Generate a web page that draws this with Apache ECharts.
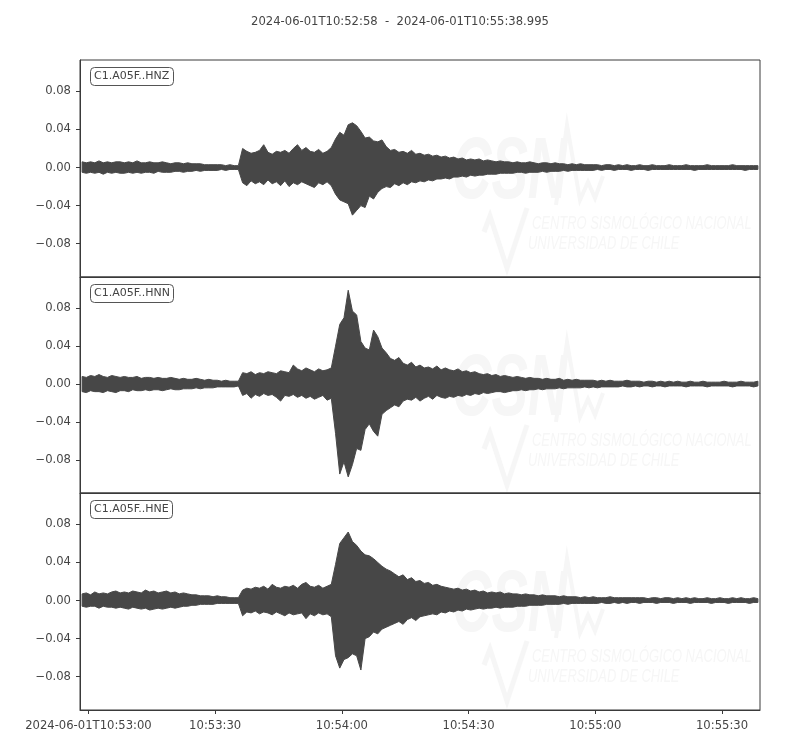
<!DOCTYPE html>
<html>
<head>
<meta charset="utf-8">
<script src="https://cdn.jsdelivr.net/npm/echarts@6/dist/echarts.min.js"></script>
<style>
  html, body { margin: 0; padding: 0; background: #ffffff; }
  #chart { width: 800px; height: 750px; }
</style>
</head>
<body>
<div id="chart"></div>
<script>
// ---------------- data ----------------
const titleText = '2024-06-01T10:52:58  -  2024-06-01T10:55:38.995';
const channels = ['C1.A05F..HNZ', 'C1.A05F..HNN', 'C1.A05F..HNE'];
// seconds after 2024-06-01T10:52:58
const traceDuration = 160.995;
const xTickSeconds = [2, 32, 62, 92, 122, 152];
const xTickLabels = ['2024-06-01T10:53:00', '10:53:30', '10:54:00', '10:54:30', '10:55:00', '10:55:30'];
const yTickValues = [-0.08, -0.04, 0, 0.04, 0.08];
const yTickLabels = ['\u22120.08', '\u22120.04', '0.00', '0.04', '0.08'];
// amplitude envelopes (max / min in each second), units of 0.001
const hnzTop = [
  6,5,6,5,7,5,6,5,6,6, 5,6,5,7,5,5,6,5,5,6, 5,4,5,5,4,5,4,4,4,3, 3,3,3,3,2,3,2,2,
  20,17,15,16,18,24,16,14,17,16, 18,15,20,24,18,21,17,16,19,15,17,21,
  30,37,34,45,47,44,38,31,32,28,27,29,22,
  18,19,16,17,15,18,14,15,13,14,12,13,11,12,10,11,9,10,8,9,8,9,7,8,7,6,7,6,
  6,5,6,5,5,6,5,4,5,5, 4,5,4,4,3,4,3,4,3,3, 3,3,2,3,3,2,3,2,3,2,
  2,3,2,2,3,2,2,2,3,2, 2,2,3,2,2,2,2,3,2,2, 2,2,2,3,2,2,2,2,2,2
];
const hnzBottom = [
  -5,-6,-5,-6,-5,-7,-5,-6,-5,-6, -6,-5,-6,-5,-6,-5,-5,-6,-4,-5, -5,-5,-4,-4,-5,-4,-4,-3,-4,-3, -3,-3,-3,-2,-3,-2,-2,-2,
  -16,-19,-14,-17,-15,-18,-13,-17,-15,-19, -14,-20,-16,-18,-15,-17,-19,-21,-16,-18,-15,-19,
  -28,-34,-36,-38,-50,-45,-40,-42,-30,-33,-26,-22,-20,
  -21,-17,-19,-16,-18,-15,-16,-14,-15,-13,-14,-12,-12,-11,-12,-10,-10,-9,-10,-8,-9,-8,-8,-7,-7,-7,-6,-6,
  -6,-6,-5,-5,-6,-5,-5,-5,-4,-5, -4,-4,-4,-3,-4,-3,-3,-3,-3,-3, -3,-2,-3,-2,-2,-3,-2,-2,-2,-3,
  -2,-2,-2,-3,-2,-2,-2,-2,-2,-2, -2,-2,-2,-2,-3,-2,-2,-2,-2,-2, -2,-2,-2,-2,-2,-2,-3,-2,-2,-2
];
const hnnTop = [
  8,7,9,8,10,8,7,9,8,7, 8,7,7,8,6,7,7,6,7,6, 6,7,6,5,6,5,5,6,5,4, 5,4,4,3,4,3,3,3,
  12,11,13,10,12,11,13,12,11,14, 13,12,20,16,14,17,15,13,16,14, 15,17,
  40,63,70,99,77,73,45,38,36,57,50,38,33,27,25,28,22,20,23,18,20,17,18,16,19,15,
  17,15,14,16,13,14,12,13,11,10,11,9,10,8,9,
  8,7,8,7,6,7,6,6,5,6, 5,5,6,4,5,4,5,4,4,4, 4,3,4,3,4,3,3,3,4,3,
  3,3,2,3,3,2,3,2,3,2, 3,2,2,3,2,2,3,2,2,2, 2,3,2,2,2,3,2,2,2,3
];
const hnnBottom = [
  -8,-9,-7,-8,-8,-9,-7,-8,-9,-7, -7,-8,-6,-7,-7,-6,-7,-6,-6,-7, -6,-5,-6,-6,-5,-5,-5,-4,-5,-4, -4,-4,-3,-3,-3,-3,-3,-2,
  -12,-10,-15,-11,-13,-10,-12,-11,-14,-18, -12,-13,-11,-14,-12,-15,-13,-16,-14,-12, -17,-15,
  -52,-95,-82,-98,-85,-68,-70,-48,-42,-50,-55,-32,-28,-25,-22,-24,-18,-16,-17,-14,-18,-15,-13,-16,-12,-14,
  -15,-13,-14,-12,-13,-11,-12,-10,-11,-9,-10,-9,-8,-8,-9,
  -8,-7,-7,-6,-7,-6,-6,-5,-6,-5, -5,-5,-4,-5,-4,-4,-4,-4,-3,-4, -3,-4,-3,-3,-3,-3,-3,-2,-3,-3,
  -2,-3,-2,-2,-3,-2,-2,-3,-2,-2, -2,-2,-3,-2,-2,-2,-2,-3,-2,-2, -2,-2,-2,-3,-2,-2,-2,-2,-3,-2
];
const hneTop = [
  7,8,6,9,7,8,7,9,10,8, 9,8,10,9,8,11,9,10,8,9, 10,8,9,7,8,7,6,6,5,5, 5,4,5,4,4,3,3,3,
  11,13,12,14,13,15,12,17,14,13, 15,14,16,13,17,19,15,14,16,13, 15,17,
  38,60,66,72,62,58,52,48,47,44,40,36,33,31,28,25,27,22,24,20,21,
  18,19,16,17,15,14,13,12,13,11, 12,10,11,9,10,8,9,8,9,7,
  8,7,7,6,7,6,6,5,6,5, 5,5,4,5,4,4,4,3,4,3, 4,3,3,3,4,3,3,3,3,3,
  3,3,3,2,3,3,2,3,3,2, 3,2,3,2,3,2,2,3,2,2, 3,2,2,3,2,3,2,2,3,2
];
const hneBottom = [
  -6,-7,-6,-6,-8,-6,-7,-7,-8,-7, -8,-9,-7,-8,-9,-8,-10,-9,-8,-9, -8,-7,-8,-7,-6,-6,-5,-5,-4,-4, -4,-4,-3,-3,-3,-3,-3,-3,
  -16,-12,-13,-11,-14,-12,-13,-15,-12,-14, -16,-13,-15,-14,-13,-19,-14,-16,-13,-15, -14,-17,
  -58,-71,-62,-60,-56,-58,-73,-40,-38,-33,-35,-30,-28,-26,-24,-22,-25,-20,-18,-21,-17,
  -16,-15,-14,-15,-12,-13,-11,-12,-10,-11, -9,-10,-9,-8,-9,-8,-8,-7,-8,-7,
  -7,-7,-6,-6,-6,-5,-5,-5,-5,-4, -4,-4,-4,-3,-4,-3,-3,-3,-3,-3, -3,-3,-2,-3,-3,-2,-3,-2,-3,-2,
  -2,-3,-2,-2,-2,-3,-2,-2,-2,-3, -2,-2,-2,-3,-2,-2,-2,-2,-3,-2, -2,-2,-3,-2,-2,-2,-2,-3,-2,-2
];
const envelopes = [[hnzTop, hnzBottom], [hnnTop, hnnBottom], [hneTop, hneBottom]];
const unit = 0.001;

// ---------------- layout ----------------
const textColor = '#444444';
const spineColor = '#3a3a3a';
const traceColor = '#474747';
const panelTops = [60, 277, 493];
const panelHeights = [217, 216, 217];
const yMin = -0.115, yMax = 0.113;
const labelFont = 11.6;

// min/max trace band drawn through the axis scales
function makeRenderer(top, bottom) {
  return function (params, api) {
    const pts = [];
    for (let i = 0; i < top.length; i++) pts.push(api.coord([i + 0.5, top[i] * unit]));
    for (let i = bottom.length - 1; i >= 0; i--) pts.push(api.coord([i + 0.5, bottom[i] * unit]));
    return {
      type: 'polygon',
      shape: { points: pts },
      style: { fill: traceColor, stroke: traceColor, lineWidth: 1 }
    };
  };
}

const grids = [], xAxes = [], yAxes = [], series = [];
const titles = [{
  text: titleText, left: 'center', top: 15, padding: 0,
  textStyle: { fontSize: 11.6, color: textColor, fontWeight: 'normal', fontFamily: 'DejaVu Sans', lineHeight: 14 }
}];
const graphics = [];

for (let p = 0; p < 3; p++) {
  const isBottom = p === 2;
  grids.push({
    left: 80, top: panelTops[p], width: 680, height: panelHeights[p],
    show: true, borderColor: spineColor, borderWidth: 1, backgroundColor: 'transparent', containLabel: false
  });
  xAxes.push({
    type: 'value', gridIndex: p, min: 0, max: traceDuration,
    splitLine: { show: false },
    axisLine: { show: true, onZero: false, lineStyle: { color: spineColor, width: 1 } },
    axisTick: { show: isBottom, length: 4, lineStyle: { color: spineColor }, customValues: xTickSeconds },
    axisLabel: {
      show: isBottom, customValues: xTickSeconds, margin: 10,
      color: textColor, fontSize: labelFont, fontFamily: 'DejaVu Sans',
      formatter: function (v) {
        const k = xTickSeconds.findIndex(s => Math.abs(s - v) < 1e-6);
        return k >= 0 ? xTickLabels[k] : '';
      }
    }
  });
  yAxes.push({
    type: 'value', gridIndex: p, min: yMin, max: yMax,
    splitLine: { show: false },
    axisLine: { show: true, onZero: false, lineStyle: { color: spineColor, width: 1 } },
    axisTick: { show: true, length: 4, lineStyle: { color: spineColor }, customValues: yTickValues },
    axisLabel: {
      customValues: yTickValues, margin: 9,
      color: textColor, fontSize: labelFont, fontFamily: 'DejaVu Sans',
      formatter: function (v) {
        const k = yTickValues.findIndex(s => Math.abs(s - v) < 1e-9);
        return k >= 0 ? yTickLabels[k] : '';
      }
    }
  });
  series.push({
    type: 'custom', xAxisIndex: p, yAxisIndex: p,
    data: [[0, 0]],
    renderItem: makeRenderer(envelopes[p][0], envelopes[p][1]),
    silent: true, clip: true,
    z: 3
  });
  titles.push({
    text: channels[p], left: 90, top: panelTops[p] + 7,
    padding: [3, 4], borderColor: '#555555', borderWidth: 1, borderRadius: 4,
    backgroundColor: '#ffffff',
    textStyle: { fontSize: 11, color: textColor, fontWeight: 'normal', fontFamily: 'DejaVu Sans', lineHeight: 13 }
  });

  // faint watermark logo
  const dy = panelTops[p] - 60;
  const wm = '#f6f6f6';
  graphics.push({
    type: 'text', x: 452, y: 130 + dy, scaleX: 0.62, z: -10, silent: true,
    style: { text: 'CSN', fontFamily: 'Liberation Sans', fontSize: 88, fontStyle: 'italic', fontWeight: 'bold', fill: wm }
  });
  graphics.push({
    type: 'polyline', y: dy, z: -10, silent: true,
    shape: { points: [[556, 205], [567, 125], [580, 200], [588, 182], [595, 198], [603, 176]] },
    style: { stroke: wm, lineWidth: 4, fill: null }
  });
  graphics.push({
    type: 'polyline', y: dy, z: -10, silent: true,
    shape: { points: [[484, 232], [490, 216], [507, 268], [527, 208]] },
    style: { stroke: wm, lineWidth: 5, fill: null }
  });
  graphics.push({
    type: 'text', x: 532, y: 214 + dy, scaleX: 0.68, z: -10, silent: true,
    style: { text: 'CENTRO SISMOLÓGICO NACIONAL', fontFamily: 'Liberation Sans', fontSize: 19, fontStyle: 'italic', fill: wm }
  });
  graphics.push({
    type: 'text', x: 528, y: 234 + dy, scaleX: 0.68, z: -10, silent: true,
    style: { text: 'UNIVERSIDAD DE CHILE', fontFamily: 'Liberation Sans', fontSize: 19, fontStyle: 'italic', fill: wm }
  });
}

const chart = echarts.init(document.getElementById('chart'), null, { renderer: 'canvas' });
chart.setOption({
  animation: false,
  backgroundColor: '#ffffff',
  textStyle: { fontFamily: 'DejaVu Sans' },
  title: titles,
  grid: grids,
  xAxis: xAxes,
  yAxis: yAxes,
  series: series,
  graphic: { elements: graphics }
});
</script>
</body>
</html>
